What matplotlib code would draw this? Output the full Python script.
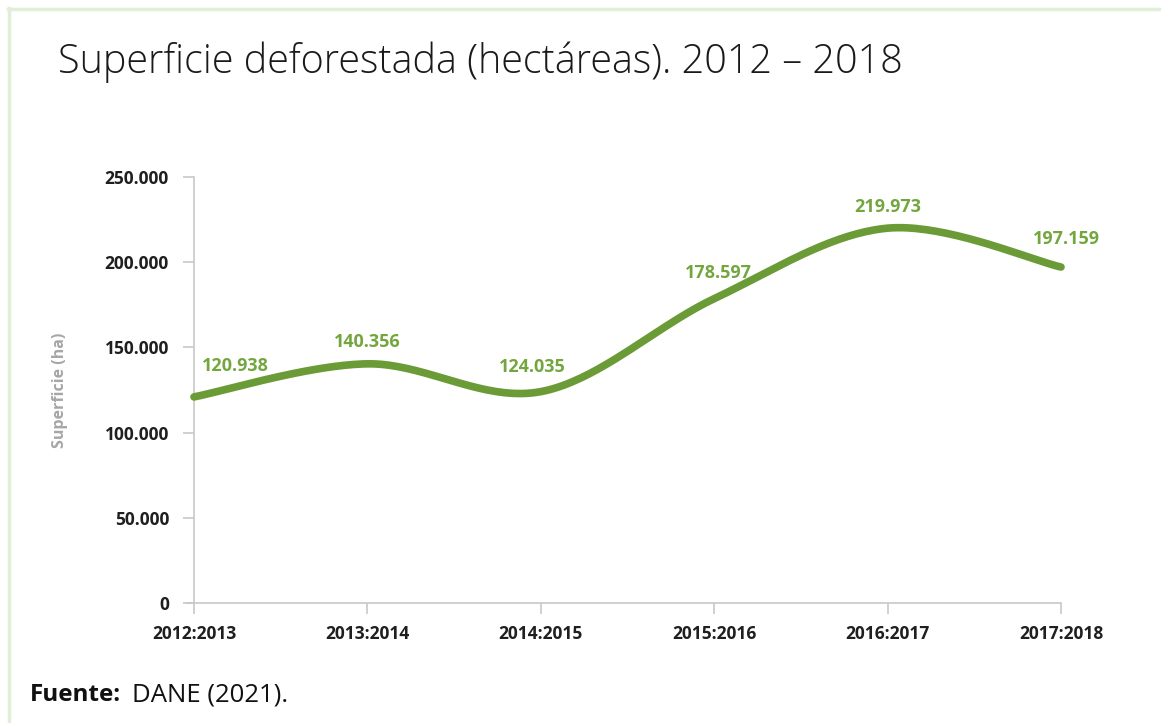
import matplotlib.pyplot as plt
import numpy as np
from matplotlib.lines import Line2D

periods = ["2012:2013", "2013:2014", "2014:2015", "2015:2016", "2016:2017", "2017:2018"]
hectares = [120938, 140356, 124035, 178597, 219973, 197159]
labels = ["120.938", "140.356", "124.035", "178.597", "219.973", "197.159"]
label_offsets = [(30, 16), (0, 9), (-6, 11), (3, 12), (0, 9), (4, 14)]  # points

GREEN = "#6b9b37"
LABEL_GREEN = "#74a63f"
TEXT = "#1f1f1f"

plt.rcParams['font.family'] = ['Open Sans', 'DejaVu Sans']


def smooth(xs, ys, n=40):
    # Excel-style smoothed line: cubic Bezier segments with Catmull-Rom tangents
    xs = np.asarray(xs, float)
    ys = np.asarray(ys, float)
    px, py = [], []
    for i in range(len(xs) - 1):
        i0 = max(i - 1, 0)
        i3 = min(i + 2, len(xs) - 1)
        c1x = xs[i] + (xs[i + 1] - xs[i0]) / 6
        c1y = ys[i] + (ys[i + 1] - ys[i0]) / 6
        c2x = xs[i + 1] - (xs[i3] - xs[i]) / 6
        c2y = ys[i + 1] - (ys[i3] - ys[i]) / 6
        t = np.linspace(0, 1, n)
        bx = (1 - t) ** 3 * xs[i] + 3 * (1 - t) ** 2 * t * c1x + 3 * (1 - t) * t ** 2 * c2x + t ** 3 * xs[i + 1]
        by = (1 - t) ** 3 * ys[i] + 3 * (1 - t) ** 2 * t * c1y + 3 * (1 - t) * t ** 2 * c2y + t ** 3 * ys[i + 1]
        px.extend(bx)
        py.extend(by)
    return np.array(px), np.array(py)


fig = plt.figure(figsize=(11.61, 7.23), dpi=100)
ax = fig.add_axes([194 / 1161, 1 - 603 / 723, (1061 - 194) / 1161, (603 - 177) / 723])

x = np.arange(len(periods))
sx, sy = smooth(x, hectares)
ax.plot(sx, sy, color=GREEN, lw=5.5, solid_capstyle='round', zorder=3, clip_on=False)

for xi, yi, lab, off in zip(x, hectares, labels, label_offsets):
    ax.annotate(lab, (xi, yi), xytext=off, textcoords='offset points',
                ha='center', va='bottom', color=LABEL_GREEN, fontsize=13,
                fontweight='bold')

ax.set_xlim(0, len(periods) - 1)
ax.set_ylim(0, 250000)
ax.set_yticks(np.arange(0, 250001, 50000))
ax.set_yticklabels(["0" if v == 0 else f"{v // 1000}.000" for v in range(0, 250001, 50000)])
ax.set_xticks(x)
ax.set_xticklabels(periods)

for s in ['top', 'right']:
    ax.spines[s].set_visible(False)
for s in ['left', 'bottom']:
    ax.spines[s].set_color('#c8c8c8')
    ax.spines[s].set_linewidth(1.2)
ax.spines['bottom'].set_bounds(-0.04, len(periods) - 1)

ax.tick_params(axis='both', colors='#c8c8c8', width=1.2, length=8, labelcolor=TEXT,
               labelsize=12.5)
ax.tick_params(axis='x', pad=8)
ax.tick_params(axis='y', pad=10)
for t in ax.get_xticklabels() + ax.get_yticklabels():
    t.set_fontweight('bold')

ax.set_ylabel("Superficie (ha)", color='#a6a6a6', fontsize=11.5, fontweight='bold')
ax.yaxis.set_label_coords(-(194 - 68) / (1061 - 194), 0.5)

fig.text(58 / 1161, 1 - 62 / 723, "Superficie deforestada (hectáreas). 2012 – 2018",
         fontsize=28.5, color='#1a1a1a', fontweight='light', va='center', ha='left')

fig.text(30 / 1161, 1 - 695 / 723, "Fuente:", fontsize=17.5, fontweight='bold', color='#111111',
         va='center', ha='left')
fig.text(132 / 1161, 1 - 695 / 723, "DANE (2021).", fontsize=18.5, color='#111111',
         va='center', ha='left')

# pale green frame around the figure
fig.add_artist(Line2D([8 / 1161, 1], [1 - 9 / 723, 1 - 9 / 723], color='#e1eed8', lw=2.5,
                      transform=fig.transFigure))
fig.add_artist(Line2D([9 / 1161, 9 / 1161], [0, 1 - 8 / 723], color='#e1eed8', lw=2.5,
                      transform=fig.transFigure))

fig.savefig("out.png", dpi=100)
